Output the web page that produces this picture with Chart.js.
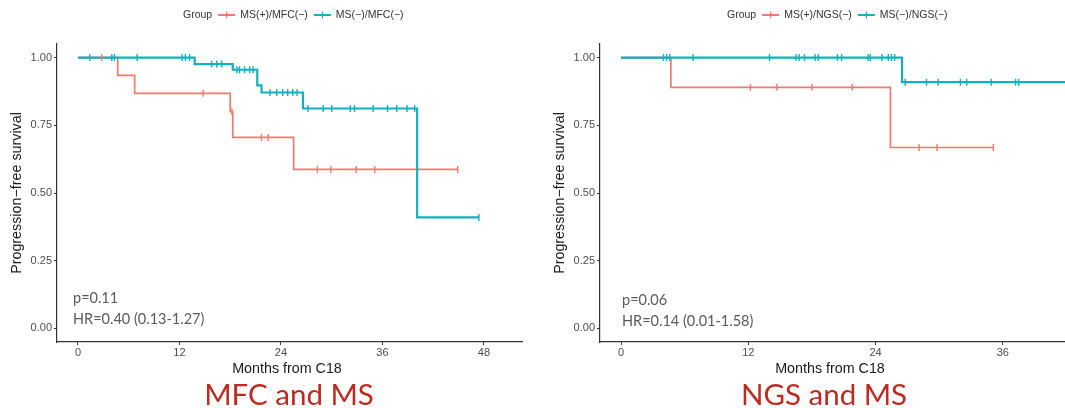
<!DOCTYPE html>
<html><head><meta charset="utf-8">
<script src="https://cdn.jsdelivr.net/npm/chart.js@4.4.0/dist/chart.umd.min.js"></script>
<style>
html,body{margin:0;padding:0;background:#fff;overflow:hidden;width:1065px;height:408px;position:relative;}
canvas{position:absolute;top:0;display:block;}
#c1{left:0;}
#c2{left:543px;}
</style></head><body>
<canvas id="c1" width="530" height="408"></canvas>
<canvas id="c2" width="560" height="408"></canvas>
<script>
// ---------- data ----------
const survivalTicks = [0, 0.25, 0.5, 0.75, 1];
const monthTicksLeft = [0, 12, 24, 36, 48];
const monthTicksRight = [0, 12, 24, 36];

// Left panel: MFC and MS
const mfcPosTimes = [0, 4.7, 6.7, 18.0, 18.3, 25.5, 44.9];
const mfcPosSurv  = [1, 0.934, 0.868, 0.80, 0.705, 0.587, 0.587];
const mfcPosCensor = [2.8, 14.8, 18.2, 21.7, 22.5, 28.3, 29.9, 32.9, 35.1, 44.9];
const mfcNegTimes = [0, 13.8, 18.3, 21.2, 21.7, 26.6, 40.1, 47.4];
const mfcNegSurv  = [1, 0.976, 0.955, 0.897, 0.871, 0.812, 0.41, 0.41];
const mfcNegCensor = [1.4, 4.0, 4.3, 7.0, 12.3, 12.7, 13.2, 15.8, 16.4, 17.0, 18.8, 19.1, 19.7, 20.3, 20.7,
  22.7, 23.5, 24.2, 24.8, 25.4, 25.9, 27.2, 29.0, 30.0, 32.2, 32.7, 34.9, 36.6, 37.7, 38.9, 39.8, 47.4];

// Right panel: NGS and MS
const ngsPosTimes = [0, 4.7, 25.4, 35.1];
const ngsPosSurv  = [1, 0.89, 0.668, 0.668];
const ngsPosCensor = [12.2, 14.7, 18.0, 21.8, 28.1, 29.8, 35.1];
const ngsNegTimes = [0, 26.5, 42.3];
const ngsNegSurv  = [1, 0.909, 0.909];
const ngsNegCensor = [4.0, 4.3, 4.6, 6.8, 14.0, 16.5, 16.8, 17.3, 18.3, 18.6, 20.4, 20.8, 23.3, 23.5, 24.6,
  25.2, 25.5, 25.8, 26.8, 28.8, 29.9, 32.0, 32.6, 34.9, 37.2, 37.5, 42.3];

const RED = '#EF7A6D';
const TEAL = '#13B0BF';
const FONT = '"Liberation Sans", Arial, sans-serif';

function stepValue(times, surv, t) {
  let v = surv[0];
  for (let i = 0; i < times.length; i++) if (times[i] <= t) v = surv[i];
  return v;
}
function lineDS(label, times, surv, color, order, width) {
  return { label, data: times.map((t, i) => ({ x: t, y: surv[i] })), borderColor: color, backgroundColor: color,
    borderWidth: width, stepped: 'before', pointRadius: 0, fill: false, order };
}
function censorDS(censor, times, surv, color) {
  return { label: '', data: censor.map(t => ({ x: t, y: stepValue(times, surv, t) })), showLine: false,
    pointStyle: 'line', rotation: 90, pointRadius: 3.5, pointHoverRadius: 3.5, pointBorderWidth: 1.4,
    borderColor: color, backgroundColor: color, order: 0 };
}

function overlay(cfg) {
  return { id: 'overlay', afterDraw(chart) {
    const ctx = chart.ctx; ctx.save();
    // legend
    ctx.font = '10.5px ' + FONT; ctx.textBaseline = 'middle'; ctx.textAlign = 'left';
    let x = cfg.legendX; const y = 15;
    ctx.fillStyle = '#333'; ctx.fillText('Group', x, y); x += ctx.measureText('Group').width + 6;
    const items = chart.data.datasets.filter(d => d.label);
    items.sort((a, b) => b.order - a.order);
    for (const it of items) {
      ctx.strokeStyle = it.borderColor; ctx.lineWidth = 2;
      ctx.beginPath(); ctx.moveTo(x, y); ctx.lineTo(x + 17, y); ctx.stroke();
      ctx.lineWidth = 1.2; ctx.beginPath(); ctx.moveTo(x + 8.5, y - 3.5); ctx.lineTo(x + 8.5, y + 3.5); ctx.stroke();
      x += 22;
      ctx.fillStyle = '#333'; ctx.fillText(it.label, x, y); x += ctx.measureText(it.label).width + 6;
    }
    // x axis title
    ctx.font = '14.3px ' + FONT; ctx.textAlign = 'center'; ctx.fillStyle = '#1a1a1a';
    ctx.fillText('Months from C18', cfg.xTitleX, 369);
    // annotations
    ctx.font = '14.5px Lato, "Open Sans", sans-serif'; ctx.textAlign = 'left'; ctx.fillStyle = '#5a5a5a';
    ctx.fillText(cfg.pText, cfg.annX, cfg.annY);
    ctx.fillText(cfg.hrText, cfg.annX, cfg.annY + 21);
    // big title
    ctx.font = '29.5px Lato, "Open Sans", sans-serif'; ctx.textAlign = 'center'; ctx.textBaseline = 'alphabetic';
    ctx.fillStyle = '#BC2A20';
    ctx.fillText(cfg.title, cfg.titleX, 405);
    ctx.restore();
  }};
}

function makeChart(id, o) {
  new Chart(document.getElementById(id), {
    type: 'line',
    data: { datasets: [
      censorDS(o.negCensor, o.negTimes, o.negSurv, TEAL),
      censorDS(o.posCensor, o.posTimes, o.posSurv, RED),
      lineDS(o.negLabel, o.negTimes, o.negSurv, TEAL, 1, 2.2),
      lineDS(o.posLabel, o.posTimes, o.posSurv, RED, 2, 1.7),
    ]},
    options: {
      responsive: false, animation: false, devicePixelRatio: 1,
      layout: { padding: { left: 0, right: o.padRight, top: 44, bottom: 30 } },
      plugins: { legend: { display: false }, tooltip: { enabled: false }, title: { display: false } },
      scales: {
        x: { type: 'linear', min: o.xMin, max: o.xMax,
          afterBuildTicks: s => { s.ticks = o.xTicks.map(v => ({ value: v })); },
          afterFit: s => { s.height = 36; },
          ticks: { color: '#4D4D4D', font: { family: FONT, size: 11 }, padding: 1, maxRotation: 0, autoSkip: false,
            callback: v => String(v) },
          grid: { display: true, drawOnChartArea: false, drawTicks: true, tickLength: 3, color: '#333', lineWidth: 1 },
          border: { display: true, color: '#333', width: 1.2 } },
        y: { type: 'linear', min: -0.05, max: 1.05,
          afterBuildTicks: s => { s.ticks = survivalTicks.map(v => ({ value: v })); },
          afterFit: s => { s.width = 57; },
          ticks: { color: '#4D4D4D', font: { family: FONT, size: 11 }, padding: 2, callback: v => Number(v).toFixed(2) },
          grid: { display: true, drawOnChartArea: false, drawTicks: true, tickLength: 3, color: '#333', lineWidth: 1 },
          border: { display: true, color: '#333', width: 1.2 },
          title: { display: true, text: 'Progression\u2212free survival', color: '#1a1a1a',
            font: { family: FONT, size: 14.3, lineHeight: 1.2 }, padding: { top: 8, bottom: 0 } } }
      }
    },
    plugins: [overlay(o.overlay)]
  });
}

makeChart('c1', {
  posLabel: 'MS(+)/MFC(\u2212)', negLabel: 'MS(\u2212)/MFC(\u2212)',
  posTimes: mfcPosTimes, posSurv: mfcPosSurv, posCensor: mfcPosCensor,
  negTimes: mfcNegTimes, negSurv: mfcNegSurv, negCensor: mfcNegCensor,
  xMin: -2.48, xMax: 52.5, xTicks: monthTicksLeft, padRight: 8,
  overlay: { legendX: 183, xTitleX: 287, pText: 'p=0.11', hrText: 'HR=0.40 (0.13-1.27)', annX: 73, annY: 298,
    title: 'MFC and MS', titleX: 289 }
});
makeChart('c2', {
  posLabel: 'MS(+)/NGS(\u2212)', negLabel: 'MS(\u2212)/NGS(\u2212)',
  posTimes: ngsPosTimes, posSurv: ngsPosSurv, posCensor: ngsPosCensor,
  negTimes: ngsNegTimes, negSurv: ngsNegSurv, negCensor: ngsNegCensor,
  xMin: -1.98, xMax: 44.5, xTicks: monthTicksRight, padRight: 10,
  overlay: { legendX: 184, xTitleX: 287, pText: 'p=0.06', hrText: 'HR=0.14 (0.01-1.58)', annX: 79, annY: 300,
    title: 'NGS and MS', titleX: 281 }
});
</script>
</body></html>
